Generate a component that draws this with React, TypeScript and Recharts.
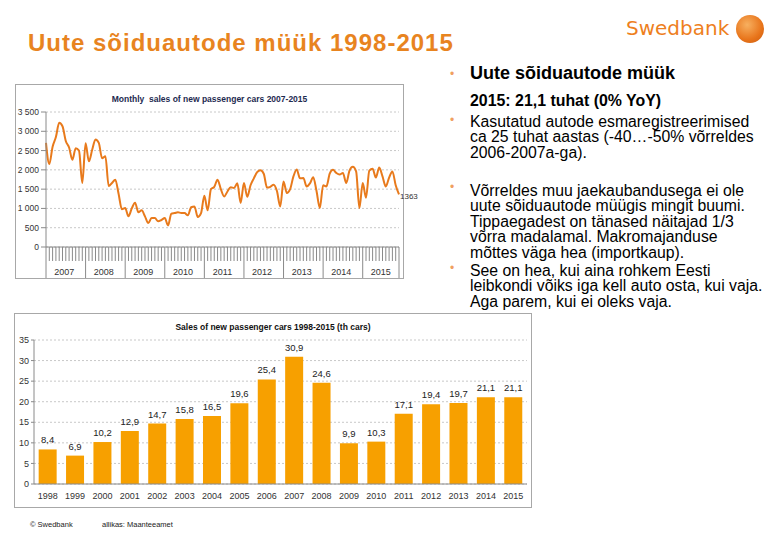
import React from "react";
import {
    LineChart,
    Line,
    BarChart,
    Bar,
    XAxis,
    YAxis,
    CartesianGrid,
    LabelList,
} from "recharts";

// monthly sales (cars per month)
const m2007 = [2700, 2150, 2600, 2850, 3220, 3130, 2750, 2580, 2260, 2560, 2500, 1660];
const m2008 = [2690, 2220, 2520, 2790, 2700, 2300, 2350, 1580, 1660, 1745, 1380, 980];
const m2009 = [1010, 795, 1000, 1150, 900, 950, 795, 620, 750, 750, 665, 700];
const m2010 = [750, 560, 865, 880, 900, 880, 880, 820, 1030, 1050, 780, 880];
const m2011 = [1330, 950, 1500, 1560, 1745, 1500, 1310, 1440, 1550, 1530, 1650, 1140];
const m2012 = [1660, 1300, 1600, 1780, 1940, 1990, 1900, 1540, 1560, 1615, 1450, 1050];
const m2013 = [1700, 1400, 1500, 1830, 2010, 1780, 1790, 1570, 1650, 1810, 1450, 1010];
const m2014 = [1600, 1570, 1900, 2000, 1920, 1880, 1920, 1660, 1980, 2080, 1960, 1010];
const m2015 = [1660, 1280, 1980, 2030, 1800, 2060, 1830, 1570, 1800, 1960, 1600, 1363];

const monthYears = [2007, 2008, 2009, 2010, 2011, 2012, 2013, 2014, 2015];
const monthlyValues = [...m2007, ...m2008, ...m2009, ...m2010, ...m2011, ...m2012, ...m2013, ...m2014, ...m2015];
const monthlyTicksY = [0, 500, 1000, 1500, 2000, 2500, 3000, 3500];

// yearly sales, thousand cars
const years = ["1998", "1999", "2000", "2001", "2002", "2003", "2004", "2005", "2006", "2007", "2008", "2009", "2010", "2011", "2012", "2013", "2014", "2015"];
const yearlySales = [8.4, 6.9, 10.2, 12.9, 14.7, 15.8, 16.5, 19.6, 25.4, 30.9, 24.6, 9.9, 10.3, 17.1, 19.4, 19.7, 21.1, 21.1];
const yearlyTicksY = [0, 5, 10, 15, 20, 25, 30, 35];

const monthlyData = monthlyValues.map((v, i) => ({ i, v }));
const yearlyData = years.map((y, k) => ({ year: y, sales: yearlySales[k] }));

const lastIdx = monthlyValues.length - 1;
const monthTicks = [
    ...monthlyValues.map((_, i) => i),
    ...monthYears.map((_, k) => k * 12 + 5.5),
];

const ORANGE = "#e8841f";
const FONT = "'Liberation Sans', Arial, sans-serif";

// "3 500" style, with a no-break space so Recharts does not wrap it
const fmtThousands = (v: number) =>
    v >= 1000 ? `${Math.floor(v / 1000)}\u00a0${String(v % 1000).padStart(3, "0")}` : String(v);

const MonthTick = (props: any) => {
    const { x, y, payload } = props;
    const val = payload.value;
    if (!Number.isInteger(val)) {
        const k = Math.round((val - 5.5) / 12);
        return (
            <text x={x} y={y + 28} textAnchor="middle" fontSize={9} fill="#333">
                {monthYears[k]}
            </text>
        );
    }
    const isSep = val % 12 === 0 || val === lastIdx;
    return <line x1={x} x2={x} y1={y} y2={y + (isSep ? 33 : 14)} stroke="#8a8a8a" strokeWidth={1} />;
};

const EndLabel = (props: any) => {
    const { x, y, value, index } = props;
    if (index !== lastIdx) return null;
    return (
        <text x={x + 1} y={y + 5} fontSize={8} fill="#333">
            {value}
        </text>
    );
};

const frame: React.CSSProperties = {
    position: "absolute",
    border: "1px solid #a8a8a8",
    background: "#fff",
    boxSizing: "border-box",
};

const bodyText: React.CSSProperties = {
    position: "absolute",
    left: 470,
    fontSize: 15.8,
    lineHeight: "15.4px",
    color: "#000",
    whiteSpace: "nowrap",
};

const Bullet = ({ top }: { top: number }) => (
    <div style={{ position: "absolute", left: 450, top, fontSize: 12, color: "#f0a060" }}>•</div>
);

const App = () => {
    return (
        <div style={{ position: "relative", width: 780, height: 540, background: "#fff", fontFamily: FONT, overflow: "hidden" }}>
            <style>{`body{margin:0}`}</style>

            {/* header */}
            <div style={{ position: "absolute", left: 28, top: 29, fontSize: 24, letterSpacing: 1, fontWeight: 700, color: ORANGE, whiteSpace: "nowrap" }}>
                Uute sõiduautode müük 1998-2015
            </div>
            <div style={{ position: "absolute", left: 626, top: 16, fontSize: 20, fontFamily: "'DejaVu Sans', sans-serif", color: "#ee7f1e", whiteSpace: "nowrap" }}>
                Swedbank
            </div>
            <div
                style={{
                    position: "absolute",
                    left: 736,
                    top: 15,
                    width: 28,
                    height: 28,
                    borderRadius: "50%",
                    background: "radial-gradient(circle at 40% 35%, #f7b060, #e8741a 60%, #c85a10)",
                }}
            />

            {/* right text */}
            <Bullet top={67} />
            <div style={{ ...bodyText, top: 66, fontSize: 18, fontWeight: 700 }}>Uute sõiduautode müük</div>
            <div style={{ ...bodyText, top: 93, fontSize: 15.9, fontWeight: 700 }}>2015: 21,1 tuhat (0% YoY)</div>
            <Bullet top={113} />
            <div style={{ ...bodyText, top: 114 }}>
                Kasutatud autode esmaregistreerimised
                <br />
                ca 25 tuhat aastas (-40…-50% võrreldes
                <br />
                2006-2007a-ga).
            </div>
            <Bullet top={180} />
            <div style={{ ...bodyText, top: 183 }}>
                Võrreldes muu jaekaubandusega ei ole
                <br />
                uute sõiduautode müügis mingit buumi.
                <br />
                Tippaegadest on tänased näitajad 1/3
                <br />
                võrra madalamal. Makromajanduse
                <br />
                mõttes väga hea (importkaup).
            </div>
            <Bullet top={261} />
            <div style={{ ...bodyText, top: 263 }}>
                See on hea, kui aina rohkem Eesti
                <br />
                leibkondi võiks iga kell auto osta, kui vaja.
                <br />
                Aga parem, kui ei oleks vaja.
            </div>

            {/* monthly chart: svg is wider than the frame so the end label can spill over */}
            <div style={{ ...frame, left: 15, top: 84, width: 389, height: 195 }}>
                <div style={{ position: "absolute", left: 0, width: 387, top: 9, textAlign: "center", fontSize: 8.5, fontWeight: 700, color: "#1d2a50" }}>
                    Monthly&nbsp; sales of new passenger cars 2007-2015
                </div>
                <LineChart width={405} height={193} data={monthlyData} margin={{ top: 27, right: 22, left: 0, bottom: 0 }}>
                    <CartesianGrid horizontal vertical={false} stroke="#c8c8c8" strokeDasharray="2 2" />
                    <XAxis
                        dataKey="i"
                        type="number"
                        domain={[0, lastIdx]}
                        ticks={monthTicks}
                        interval={0}
                        height={31}
                        tickSize={0}
                        tickMargin={0}
                        tickLine={false}
                        tick={<MonthTick />}
                        axisLine={{ stroke: "#8a8a8a" }}
                    />
                    <YAxis
                        width={30}
                        domain={[0, 3500]}
                        ticks={monthlyTicksY}
                        interval={0}
                        tickSize={5}
                        tickMargin={2}
                        tickFormatter={fmtThousands}
                        tick={{ fontSize: 8.5, fill: "#333" }}
                        axisLine={{ stroke: "#8a8a8a" }}
                        tickLine={{ stroke: "#8a8a8a" }}
                    />
                    <Line type="monotone" dataKey="v" stroke="#e87a1c" strokeWidth={2} dot={false} isAnimationActive={false}>
                        <LabelList dataKey="v" content={<EndLabel />} />
                    </Line>
                </LineChart>
            </div>

            {/* yearly chart */}
            <div style={{ ...frame, left: 14, top: 313, width: 518, height: 195 }}>
                <div style={{ position: "absolute", left: 0, width: 516, top: 8, textAlign: "center", fontSize: 8.5, fontWeight: 700, color: "#111" }}>
                    Sales of new passenger cars 1998-2015 (th cars)
                </div>
                <BarChart width={516} height={193} data={yearlyData} margin={{ top: 26, right: 4, left: 0, bottom: 0 }} barCategoryGap="17%">
                    <CartesianGrid horizontal vertical={false} stroke="#c8c8c8" strokeDasharray="2 2" />
                    <XAxis
                        dataKey="year"
                        height={23}
                        interval={0}
                        tickLine={false}
                        tickMargin={3}
                        tick={{ fontSize: 9, fill: "#333" }}
                        axisLine={{ stroke: "#8a8a8a" }}
                    />
                    <YAxis
                        width={19}
                        domain={[0, 35]}
                        ticks={yearlyTicksY}
                        interval={0}
                        tickSize={3}
                        tickMargin={2}
                        tick={{ fontSize: 9, fill: "#333" }}
                        axisLine={{ stroke: "#8a8a8a" }}
                        tickLine={{ stroke: "#8a8a8a" }}
                    />
                    <Bar dataKey="sales" fill="#f7a000" isAnimationActive={false}>
                        <LabelList
                            dataKey="sales"
                            position="top"
                            offset={6}
                            formatter={(v: any) => Number(v).toFixed(1).replace(".", ",")}
                            style={{ fontSize: 9.5, fill: "#222" }}
                        />
                    </Bar>
                </BarChart>
            </div>

            {/* footer */}
            <div style={{ position: "absolute", left: 30, top: 520, fontSize: 7.5, color: "#222" }}>© Swedbank</div>
            <div style={{ position: "absolute", left: 102, top: 520, fontSize: 7.5, color: "#222" }}>allikas: Maanteeamet</div>
        </div>
    );
};

export default App;
